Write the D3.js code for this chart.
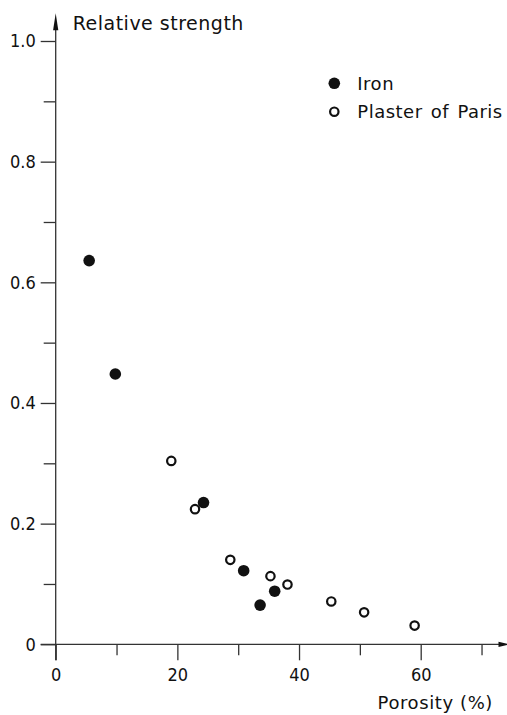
<!DOCTYPE html>
<html>
<head>
<meta charset="utf-8">
<script src="https://cdn.jsdelivr.net/npm/d3@7"></script>
<style>
  body { margin: 0; background: #fff; }
  svg { display: block; }
  text { font-family: "DejaVu Sans", sans-serif; fill: #111; }
  .axis text { font-family: "DejaVu Sans Condensed", "DejaVu Sans", sans-serif; }
  .axis line, .axis path { stroke: #333; stroke-width: 1.3; }
</style>
</head>
<body>
<svg width="507" height="715"></svg>
<script>
// porosity (%) and relative strength
var ironPorosity = [5.5, 9.8, 24.3, 30.9, 33.6, 36.0];
var ironStrength = [0.636, 0.448, 0.235, 0.122, 0.065, 0.088];

var plasterPorosity = [19.0, 22.9, 28.7, 35.3, 38.1, 45.3, 50.7, 59.0];
var plasterStrength = [0.304, 0.224, 0.140, 0.113, 0.099, 0.071, 0.053, 0.031];

var xMajor = [0, 20, 40, 60];
var xMinor = [10, 30, 50, 70];
var yMajor = [0, 0.2, 0.4, 0.6, 0.8, 1.0];
var yMinor = [0.1, 0.3, 0.5, 0.7, 0.9];

var seriesNames = ["Iron", "Plaster of Paris"];

var svg = d3.select("svg");

// scales: 0..60 % across, 0..1 up
var x = d3.scaleLinear().domain([0, 60]).range([55.7, 420.7]),
    y = d3.scaleLinear().domain([0, 1]).range([644.3, 41]);

var fmtY = function(d) { return d === 0 ? "0" : d3.format(".1f")(d); };

// x axis, major ticks with labels then minor ticks
var gx = svg.append("g")
    .attr("class", "axis")
    .attr("transform", "translate(0," + y(0) + ")")
    .call(d3.axisBottom(x).tickValues(xMajor).tickSize(16).tickPadding(8).tickFormat(d3.format("d")));
gx.append("g").call(d3.axisBottom(x).tickValues(xMinor).tickSize(11).tickFormat(""));
gx.selectAll(".domain").remove();
gx.selectAll("text").style("font-size", "18px").attr("fill", "#111");
gx.attr("font-family", null);

// y axis
var gy = svg.append("g")
    .attr("class", "axis")
    .attr("transform", "translate(" + x(0) + ",0)")
    .call(d3.axisLeft(y).tickValues(yMajor).tickSize(15).tickPadding(5).tickFormat(fmtY));
gy.append("g").call(d3.axisLeft(y).tickValues(yMinor).tickSize(12).tickFormat(""));
gy.selectAll(".domain").remove();
gy.selectAll("text").style("font-size", "18px").attr("fill", "#111");
gy.attr("font-family", null);

// axis lines with arrow heads
var xEnd = x(74.6), yEnd = y(1.046);
svg.append("line")
    .attr("x1", x(0) - 15).attr("x2", xEnd - 8)
    .attr("y1", y(0)).attr("y2", y(0))
    .attr("stroke", "#333").attr("stroke-width", 1.3);
svg.append("line")
    .attr("x1", x(0)).attr("x2", x(0))
    .attr("y1", y(0) + 16).attr("y2", yEnd + 10)
    .attr("stroke", "#333").attr("stroke-width", 1.3);

svg.append("path")
    .attr("d", "M" + xEnd + "," + y(0) + "L" + (xEnd - 11) + "," + (y(0) - 2.6) + "L" + (xEnd - 11) + "," + (y(0) + 2.6) + "Z")
    .attr("fill", "#111");
svg.append("path")
    .attr("d", "M" + x(0) + "," + yEnd + "L" + (x(0) - 2.6) + "," + (yEnd + 17) + "L" + (x(0) + 2.6) + "," + (yEnd + 17) + "Z")
    .attr("fill", "#111");

// axis titles
svg.append("text")
    .attr("x", x(0) + 17)
    .attr("y", 29.5)
    .style("font-size", "19px")
    .style("letter-spacing", "0.5px")
    .text("Relative strength");

svg.append("text")
    .attr("x", 493)
    .attr("y", 709)
    .attr("text-anchor", "end")
    .style("font-size", "18px")
    .style("letter-spacing", "0.6px")
    .text("Porosity (%)");

// points
var iron = ironPorosity.map(function(p, i) { return {p: p, s: ironStrength[i]}; });
var plaster = plasterPorosity.map(function(p, i) { return {p: p, s: plasterStrength[i]}; });

svg.append("g").selectAll("circle")
    .data(plaster)
    .enter().append("circle")
    .attr("cx", function(d) { return x(d.p); })
    .attr("cy", function(d) { return y(d.s); })
    .attr("r", 4.2)
    .attr("fill", "#fff")
    .attr("stroke", "#111")
    .attr("stroke-width", 2.2);

svg.append("g").selectAll("circle")
    .data(iron)
    .enter().append("circle")
    .attr("cx", function(d) { return x(d.p); })
    .attr("cy", function(d) { return y(d.s); })
    .attr("r", 5.8)
    .attr("fill", "#111");

// legend
var legend = svg.append("g").attr("transform", "translate(334.3,83.3)");
legend.append("circle").attr("r", 5.8).attr("fill", "#111");
legend.append("circle").attr("cy", 28.4).attr("r", 4.2)
    .attr("fill", "#fff").attr("stroke", "#111").attr("stroke-width", 2.2);
legend.selectAll("text")
    .data(seriesNames)
    .enter().append("text")
    .attr("x", 23)
    .attr("y", function(d, i) { return i * 28.4; })
    .attr("dy", "0.35em")
    .style("font-size", "18px")
    .style("letter-spacing", "0.5px")
    .style("word-spacing", "2px")
    .text(function(d) { return d; });
</script>
</body>
</html>
